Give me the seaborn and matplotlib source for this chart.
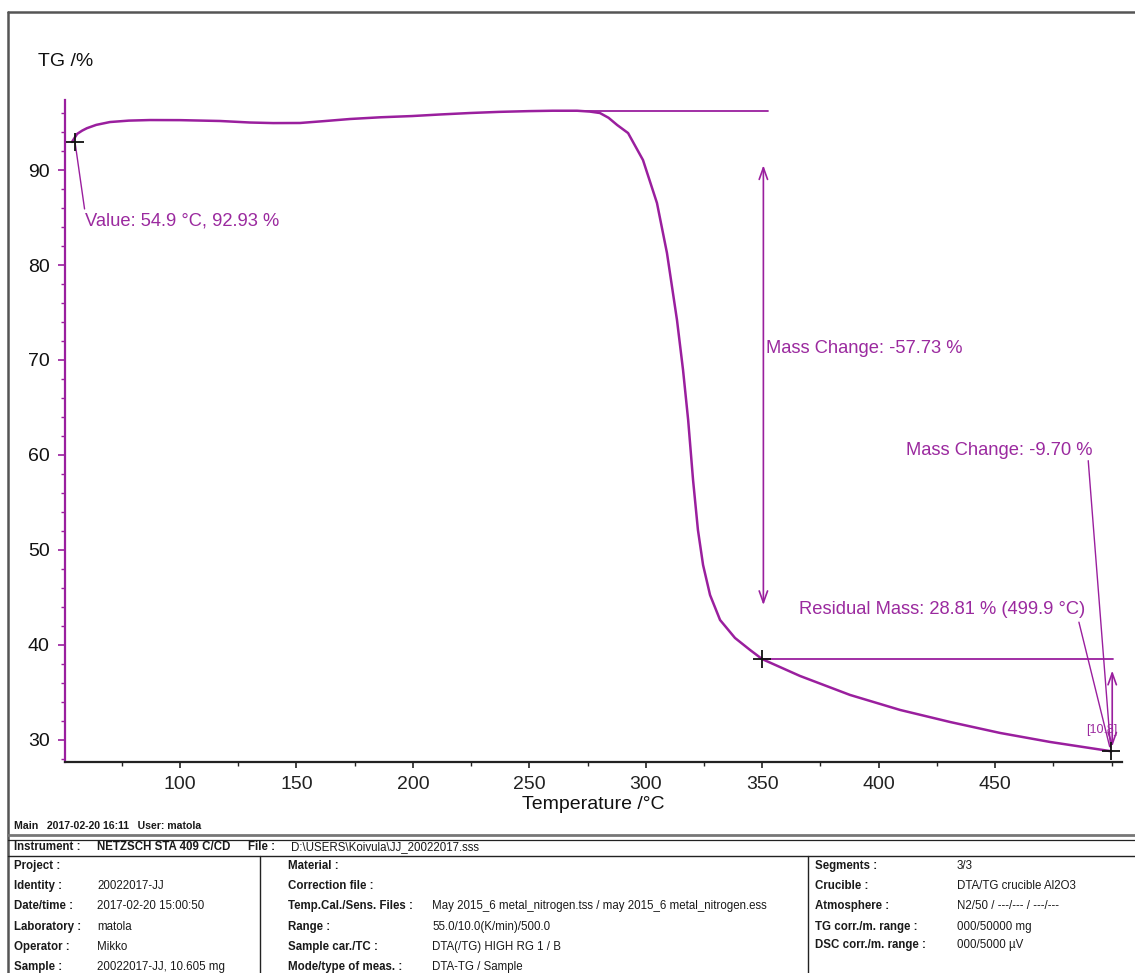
import numpy as np
import pandas as pd
import matplotlib
matplotlib.use("Agg")
import matplotlib.pyplot as plt
from matplotlib.lines import Line2D
from matplotlib.ticker import MultipleLocator
import seaborn as sns

# ---- TG curve (temperature in °C, mass in %) ----
temperature = [53.6, 55.8, 58.0, 60.0, 64.0, 69.9, 78.0, 87.1, 100.0, 117.2, 130.0,
               140.0, 151.5, 162.0, 173.0, 186.0, 199.6, 212.0, 224.5, 237.0,
               249.9, 260.0, 270.5, 276.0, 280.3, 284.0, 287.7, 292.4, 298.8,
               304.8, 309.1, 313.4, 316.0, 318.2, 320.3, 322.4, 324.6, 327.6,
               331.9, 338.3, 344.8, 350.0, 366.2, 387.7, 409.2, 430.7, 452.1,
               473.6, 499.9]
tg_mass = [92.95, 93.8, 94.15, 94.4, 94.75, 95.05, 95.2, 95.26, 95.25, 95.16, 95.0,
           94.94, 94.95, 95.15, 95.37, 95.55, 95.68, 95.85, 96.0, 96.12,
           96.2, 96.24, 96.24, 96.15, 96.0, 95.5, 94.74, 93.89, 91.05,
           86.53, 81.26, 74.21, 68.95, 63.68, 57.37, 52.1, 48.42, 45.26,
           42.63, 40.74, 39.47, 38.51, 36.74, 34.74, 33.16, 31.89, 30.74,
           29.79, 28.81]

# ---- evaluation results ----
value_point = (54.9, 92.93)
plateau_start = 262.0
plateau_mass = 96.24
step_temp = 350.0
step_mass = 38.51
end_temp = 499.9
mass_change_1 = -57.73
mass_change_2 = -9.70
residual_mass = 28.81
step_tag = "[10.8]"

x_ticks = [100, 150, 200, 250, 300, 350, 400, 450]
y_ticks = [30, 40, 50, 60, 70, 80, 90]

# ---- footer information ----
header_line = "Main   2017-02-20 16:11   User: matola"
left_labels = ["Project :", "Identity :", "Date/time :", "Laboratory :", "Operator :", "Sample :"]
left_values = ["", "20022017-JJ", "2017-02-20 15:00:50", "matola", "Mikko", "20022017-JJ, 10.605 mg"]
mid_labels = ["Material :", "Correction file :", "Temp.Cal./Sens. Files :", "Range :",
              "Sample car./TC :", "Mode/type of meas. :"]
mid_values = ["", "", "May 2015_6 metal_nitrogen.tss / may 2015_6 metal_nitrogen.ess",
              "55.0/10.0(K/min)/500.0", "DTA(/TG) HIGH RG 1 / B", "DTA-TG / Sample"]
right_labels = ["Segments :", "Crucible :", "Atmosphere :", "TG corr./m. range :", "DSC corr./m. range :"]
right_values = ["3/3", "DTA/TG crucible Al2O3", "N2/50 / ---/--- / ---/---", "000/50000 mg", "000/5000 \u00b5V"]

PURPLE = "#9a1f9e"
TEXT_PURPLE = "#9b2a9f"

sns.set_theme(style="white")
plt.rcParams["font.family"] = ["Liberation Sans", "DejaVu Sans"]

W, H = 1135, 973
fig = plt.figure(figsize=(W / 100, H / 100), dpi=100)


def fx(x):
    return x / W


def fy(y):
    return 1 - y / H


ax = fig.add_axes([fx(65), fy(762), fx(1122) - fx(65), fy(100) - fy(762)])
df = pd.DataFrame({"Temperature": temperature, "TG": tg_mass})
sns.lineplot(data=df, x="Temperature", y="TG", color=PURPLE, lw=1.8,
             sort=False, estimator=None, ax=ax)

ax.set_xlim(50.6, 504.5)
ax.set_ylim(27.68, 97.37)
ax.set_xticks(x_ticks)
ax.set_yticks(y_ticks)
ax.xaxis.set_minor_locator(MultipleLocator(25))
ax.yaxis.set_minor_locator(MultipleLocator(2))
for s in ["top", "right"]:
    ax.spines[s].set_visible(False)
ax.spines["left"].set_color(PURPLE)
ax.spines["left"].set_linewidth(1.6)
ax.spines["bottom"].set_color("#222222")
ax.spines["bottom"].set_linewidth(1.6)
ax.tick_params(axis="x", which="major", direction="out", length=4, width=1.2,
               colors="#222222", labelsize=14, pad=6, bottom=True)
ax.tick_params(axis="x", which="minor", direction="out", length=3, width=1.0,
               colors="#222222", bottom=True)
ax.tick_params(axis="y", which="major", direction="out", length=5, width=1.2,
               color=PURPLE, labelcolor="#111111", labelsize=14, pad=6, left=True)
ax.tick_params(axis="y", which="minor", direction="out", length=3, width=1.0,
               color=PURPLE, left=True)
ax.set_xlabel("Temperature /\u00b0C", fontsize=14, color="#111111", labelpad=2)
ax.set_ylabel("")
ax.grid(False)

fig.text(fx(38), fy(62), "TG /%", fontsize=14, color="#111111", va="center", ha="left")

# ---- markers ----
ax.plot([value_point[0], step_temp, end_temp], [value_point[1], step_mass, residual_mass],
        ls="none", marker="+", ms=13, mew=1.3, color="#111111", zorder=5, clip_on=False)

# value annotation
ax.plot([value_point[0], 59.0], [value_point[1], 85.9], color=PURPLE, lw=1.0)
ax.text(59.2, 84.6, f"Value: {value_point[0]} \u00b0C, {value_point[1]:.2f} %",
        color=TEXT_PURPLE, fontsize=13.2, va="center", ha="left")

# first step: plateau line and double arrow
ax.plot([plateau_start, 352.5], [plateau_mass, plateau_mass], color=PURPLE, lw=1.3)
ax.annotate("", xy=(350.5, 90.5), xytext=(350.5, 44.2),
            arrowprops=dict(arrowstyle="<->,head_length=0.7,head_width=0.25",
                            color=PURPLE, lw=1.2, shrinkA=0, shrinkB=0))
ax.text(351.5, 71.2, f"Mass Change: {mass_change_1:.2f} %", color=TEXT_PURPLE,
        fontsize=13.2, va="center", ha="left")

# second step
ax.plot([step_temp, 500.5], [step_mass, step_mass], color=PURPLE, lw=1.3)
ax.annotate("", xy=(500.3, 37.3), xytext=(500.3, 29.3),
            arrowprops=dict(arrowstyle="<->,head_length=0.7,head_width=0.25",
                            color=PURPLE, lw=1.2, shrinkA=0, shrinkB=0))
ax.text(411.8, 60.5, f"Mass Change: {mass_change_2:.2f} %", color=TEXT_PURPLE,
        fontsize=13.2, va="center", ha="left")
ax.plot([490.0, 499.6], [59.4, 29.2], color=PURPLE, lw=1.0)

# residual mass
ax.text(365.8, 43.7, f"Residual Mass: {residual_mass:.2f} % ({end_temp} \u00b0C)",
        color=TEXT_PURPLE, fontsize=13.2, va="center", ha="left")
ax.plot([486.0, 499.2], [42.4, 29.3], color=PURPLE, lw=1.0)
ax.text(489.3, 31.1, step_tag, color=TEXT_PURPLE, fontsize=9, va="center", ha="left")

# ---- page frame ----
FRAME = "#555555"
fig.add_artist(Line2D([fx(8), 1.0], [fy(11.5), fy(11.5)], color=FRAME, lw=1.8))
fig.add_artist(Line2D([fx(8), fx(8)], [fy(11.5), 0.0], color=FRAME, lw=1.8))
fig.add_artist(Line2D([fx(8), 1.0], [fy(835), fy(835)], color="#777777", lw=2.0))
fig.add_artist(Line2D([fx(8), 1.0], [fy(839.5), fy(839.5)], color="#222222", lw=0.9))
fig.add_artist(Line2D([fx(8), 1.0], [fy(856), fy(856)], color="#222222", lw=1.0))
fig.add_artist(Line2D([fx(260), fx(260)], [fy(856), 0.0], color="#222222", lw=1.0))
fig.add_artist(Line2D([fx(808), fx(808)], [fy(856), 0.0], color="#222222", lw=1.0))

# ---- footer texts ----
FOOT = "#1a1a1a"
fig.text(fx(14), fy(826), header_line, fontsize=7.6, color=FOOT, va="center", ha="left",
         fontweight="bold")
fig.text(fx(14), fy(847), "Instrument :", fontsize=8.3, color=FOOT, va="center",
         fontweight="bold")
fig.text(fx(97), fy(847), "NETZSCH STA 409 C/CD", fontsize=8.3, color=FOOT, va="center",
         fontweight="bold")
fig.text(fx(248), fy(847), "File :", fontsize=8.3, color=FOOT, va="center",
         fontweight="bold")
fig.text(fx(291), fy(847), "D:\\USERS\\Koivula\\JJ_20022017.sss", fontsize=8.3, color=FOOT,
         va="center")

rows_y = [866, 886, 906, 927, 947, 967]
for i, y in enumerate(rows_y):
    fig.text(fx(14), fy(y), left_labels[i], fontsize=8.3, color=FOOT, va="center",
             fontweight="bold")
    fig.text(fx(97), fy(y), left_values[i], fontsize=8.3, color=FOOT, va="center")
    fig.text(fx(288), fy(y), mid_labels[i], fontsize=8.3, color=FOOT, va="center",
             fontweight="bold")
    fig.text(fx(432), fy(y), mid_values[i], fontsize=8.3, color=FOOT, va="center")

rows_y_right = [866, 886, 906, 927, 945]
for i, y in enumerate(rows_y_right):
    fig.text(fx(815), fy(y), right_labels[i], fontsize=8.3, color=FOOT, va="center",
             fontweight="bold")
    fig.text(fx(957), fy(y), right_values[i], fontsize=8.3, color=FOOT, va="center")

fig.savefig("out.png", dpi=100, facecolor="white")
